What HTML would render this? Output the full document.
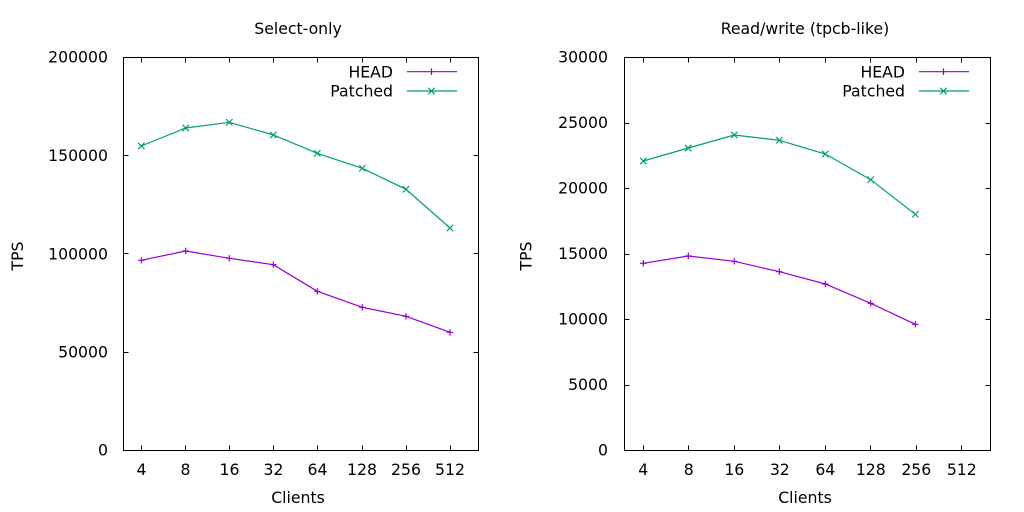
<!DOCTYPE html>
<html><head><meta charset="utf-8"><style>
html,body{margin:0;padding:0;background:#fff;}
svg{display:block;}
text{font-family:"DejaVu Sans","Liberation Sans",sans-serif;font-size:15.7px;fill:#000;}
</style></head><body>
<svg width="1024" height="512" viewBox="0 0 1024 512" xmlns="http://www.w3.org/2000/svg">
<rect width="1024" height="512" fill="#fff"/>
<!-- LEFT PLOT -->
<g stroke="#000" stroke-width="1" fill="none">
<rect x="123.5" y="57.5" width="355" height="393"/>
<!-- y ticks -->
<path d="M123.5 57.5h5M478.5 57.5h-5M123.5 155.5h5M478.5 155.5h-5M123.5 253.5h5M478.5 253.5h-5M123.5 352.5h5M478.5 352.5h-5M123.5 450.5h5M478.5 450.5h-5"/>
<!-- x ticks -->
<path d="M141.5 450.5v-5M141.5 57.5v5M185.5 450.5v-5M185.5 57.5v5M229.5 450.5v-5M229.5 57.5v5M273.5 450.5v-5M273.5 57.5v5M317.5 450.5v-5M317.5 57.5v5M362.5 450.5v-5M362.5 57.5v5M406.5 450.5v-5M406.5 57.5v5M450.5 450.5v-5M450.5 57.5v5"/>
</g>
<g text-anchor="end">
<text x="108" y="62.7">200000</text>
<text x="108" y="161">150000</text>
<text x="108" y="259.4">100000</text>
<text x="108" y="357.7">50000</text>
<text x="108" y="455.7">0</text>
</g>
<g text-anchor="middle">
<text x="141.5" y="475">4</text>
<text x="185.5" y="475">8</text>
<text x="229.5" y="475">16</text>
<text x="273.5" y="475">32</text>
<text x="317.5" y="475">64</text>
<text x="362" y="475">128</text>
<text x="406" y="475">256</text>
<text x="450" y="475">512</text>
<text x="298" y="503">Clients</text>
<text x="298" y="34">Select-only</text>
<text transform="translate(23.2,256) rotate(-90)">TPS</text>
</g>
<!-- legend left -->
<text x="393" y="77.4" text-anchor="end">HEAD</text>
<text x="393" y="96.7" text-anchor="end">Patched</text>
<g stroke="#9400d3" stroke-width="1.2" fill="none">
<path d="M407 71.7h50M431.5 68.5v6.4M428.3 71.7h6.4"/>
<polyline points="141.3,260.3 185.7,251 229.3,258.3 273.3,264.7 317.3,291.3 362.3,307.3 406,316.3 450,332.3"/>
<path d="M141.3 257.1v6.4M138.1 260.3h6.4 M185.7 247.8v6.4M182.5 251h6.4 M229.3 255.1v6.4M226.1 258.3h6.4 M273.3 261.5v6.4M270.1 264.7h6.4 M317.3 288.1v6.4M314.1 291.3h6.4 M362.3 304.1v6.4M359.1 307.3h6.4 M406 313.1v6.4M402.8 316.3h6.4 M450 329.1v6.4M446.8 332.3h6.4"/>
</g>
<g stroke="#009e73" stroke-width="1.2" fill="none">
<path d="M407 91h50M428.3 87.8l6.4 6.4M428.3 94.2l6.4-6.4"/>
<polyline points="141.3,146 185.7,128 229.3,122.3 273.3,135 317.3,153.3 362.3,168.3 406,189.3 450,228"/>
<path d="M138.1 142.8l6.4 6.4M138.1 149.2l6.4-6.4 M182.5 124.8l6.4 6.4M182.5 131.2l6.4-6.4 M226.1 119.1l6.4 6.4M226.1 125.5l6.4-6.4 M270.1 131.8l6.4 6.4M270.1 138.2l6.4-6.4 M314.1 150.1l6.4 6.4M314.1 156.5l6.4-6.4 M359.1 165.1l6.4 6.4M359.1 171.5l6.4-6.4 M402.8 186.1l6.4 6.4M402.8 192.5l6.4-6.4 M446.8 224.8l6.4 6.4M446.8 231.2l6.4-6.4"/>
</g>

<!-- RIGHT PLOT -->
<g stroke="#000" stroke-width="1" fill="none">
<rect x="624.5" y="57.5" width="366" height="393"/>
<path d="M624.5 57.5h5M990.5 57.5h-5M624.5 123.5h5M990.5 123.5h-5M624.5 188.5h5M990.5 188.5h-5M624.5 254.5h5M990.5 254.5h-5M624.5 319.5h5M990.5 319.5h-5M624.5 385.5h5M990.5 385.5h-5M624.5 450.5h5M990.5 450.5h-5"/>
<path d="M643.5 450.5v-5M643.5 57.5v5M688.5 450.5v-5M688.5 57.5v5M734.5 450.5v-5M734.5 57.5v5M779.5 450.5v-5M779.5 57.5v5M825.5 450.5v-5M825.5 57.5v5M870.5 450.5v-5M870.5 57.5v5M916.5 450.5v-5M916.5 57.5v5M961.5 450.5v-5M961.5 57.5v5"/>
</g>
<g text-anchor="end">
<text x="608" y="62.7">30000</text>
<text x="608" y="128.2">25000</text>
<text x="608" y="193.7">20000</text>
<text x="608" y="259.2">15000</text>
<text x="608" y="324.7">10000</text>
<text x="608" y="390.2">5000</text>
<text x="608" y="455.7">0</text>
</g>
<g text-anchor="middle">
<text x="643.3" y="475">4</text>
<text x="688.8" y="475">8</text>
<text x="734.3" y="475">16</text>
<text x="779.8" y="475">32</text>
<text x="825.3" y="475">64</text>
<text x="870.8" y="475">128</text>
<text x="916.3" y="475">256</text>
<text x="961.8" y="475">512</text>
<text x="805" y="503">Clients</text>
<text x="805" y="34">Read/write (tpcb-like)</text>
<text transform="translate(531.7,256) rotate(-90)">TPS</text>
</g>
<text x="905" y="77.4" text-anchor="end">HEAD</text>
<text x="905" y="96.7" text-anchor="end">Patched</text>
<g stroke="#9400d3" stroke-width="1.2" fill="none">
<path d="M919 71.7h50M943.5 68.5v6.4M940.3 71.7h6.4"/>
<polyline points="643.3,263.3 688.3,256 734.3,261.3 779.3,271.7 825.3,284 870.7,303.3 915.3,324.3"/>
<path d="M643.3 260.1v6.4M640.1 263.3h6.4 M688.3 252.8v6.4M685.1 256h6.4 M734.3 258.1v6.4M731.1 261.3h6.4 M779.3 268.5v6.4M776.1 271.7h6.4 M825.3 280.8v6.4M822.1 284h6.4 M870.7 300.1v6.4M867.5 303.3h6.4 M915.3 321.1v6.4M912.1 324.3h6.4"/>
</g>
<g stroke="#009e73" stroke-width="1.2" fill="none">
<path d="M919 91h50M940.3 87.8l6.4 6.4M940.3 94.2l6.4-6.4"/>
<polyline points="643.3,161 688.3,148 734.3,135 779.3,140.3 825.3,154 870.7,179.7 915.3,214.3"/>
<path d="M640.1 157.8l6.4 6.4M640.1 164.2l6.4-6.4 M685.1 144.8l6.4 6.4M685.1 151.2l6.4-6.4 M731.1 131.8l6.4 6.4M731.1 138.2l6.4-6.4 M776.1 137.1l6.4 6.4M776.1 143.5l6.4-6.4 M822.1 150.8l6.4 6.4M822.1 157.2l6.4-6.4 M867.5 176.5l6.4 6.4M867.5 182.9l6.4-6.4 M912.1 211.1l6.4 6.4M912.1 217.5l6.4-6.4"/>
</g>
</svg>
</body></html>
